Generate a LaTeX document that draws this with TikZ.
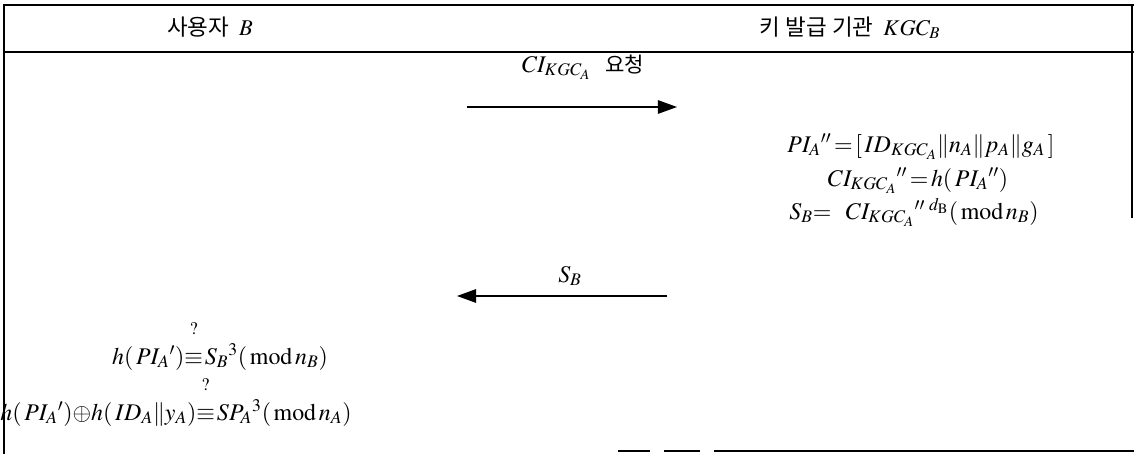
\documentclass[tikz,border=0pt]{standalone}
\usepackage{amsmath,amssymb}
\usepackage{mathptmx}
\usepackage[no-math]{fontspec}
\newfontfamily\krfont{Noto Sans CJK KR}
\usetikzlibrary{arrows.meta,positioning}
\newcommand{\qeq}{{\overset{\raisebox{1.3ex}{$\scriptstyle ?$}}{\equiv}}\mkern1.5mu}
\tikzset{
  frm/.style={black, line width=0.9pt},
  msgarr/.style={-{Triangle[length=4.8mm,width=3.4mm]}, line width=0.9pt},
  hdr/.style={font=\fontsize{16}{19}\selectfont, inner sep=1pt, anchor=base},
  eqn/.style={font=\fontsize{17}{20}\selectfont, inner sep=1pt, anchor=base},
}

\begin{document}
\begin{tikzpicture}[x=0.025cm, y=-0.025cm]
  \useasboundingbox (0,0) rectangle (1134,454);
  % frame
  \draw[frm] (1134,5) -- (4,5) -- (4,454);
  \draw[frm] (4,52) -- (1134,52);
  \draw[frm] (1132,5) -- (1132,218);
  \draw[frm] (618,451) -- (650,451) (664,451) -- (700,451) (714,451) -- (1134,451);
  % headers
  \node[hdr] (userB) at (210,35) {\krfont 사용자\ \ $B$};
  \node[hdr] (kgcB) at (850,35) {\krfont 키 발급 기관\ \ $KGC_B$};
  % request
  \coordinate (reqS) at (467,107);
  \coordinate (reqE) at (677,107);
  \draw[msgarr] (reqS) -- (reqE);
  \node[eqn] (reqL) at (583,72) {$CI_{KGC_A}$\ \ {\krfont\fontsize{15}{18}\selectfont 요청}};
  % KGC side
  \node[eqn] (piA) at (921,152) {$PI_A{}''\,{=}\,[\,ID_{KGC_A}{\|}n_A{\|}p_A{\|}g_A\,]$};
  \node[eqn] (ciA) at (918,186) {$CI_{KGC_A}{}''\,{=}\,h(\,PI_A{}'')$};
  \node[eqn] (sigB) at (914,219) {$S_B{=}\ \ CI_{KGC_A}{}''{}^{\;d_{\mathrm{B}}}(\,\mathrm{mod}\, n_B)$};
  % reply
  \coordinate (repS) at (667,296);
  \coordinate (repE) at (457,296);
  \draw[msgarr] (repS) -- (repE);
  \node[eqn] (repL) at (570,282) {$S_B$};
  % user side checks
  \node[eqn] (chk1) at (220,364) {$h(\,PI_A{}')\qeq S_B{}^3(\,\mathrm{mod}\, n_B)$};
  \node[eqn] (chk2) at (176,420) {$h(\,PI_A{}'){\oplus}h(\,ID_A{\|}y_A)\qeq SP_A{}^3(\,\mathrm{mod}\, n_A)$};
\end{tikzpicture}
\end{document}
